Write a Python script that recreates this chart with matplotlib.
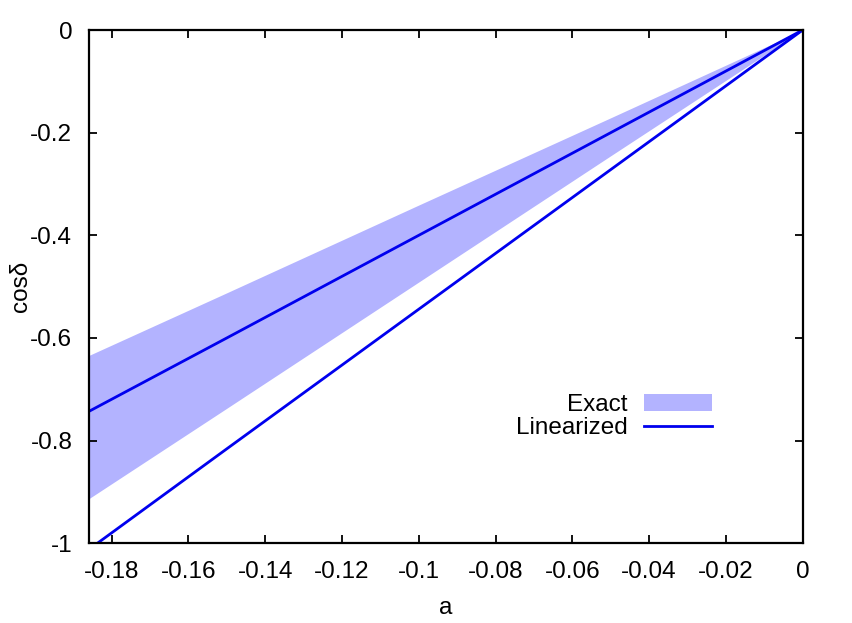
import numpy as np
import matplotlib
matplotlib.use("Agg")
import matplotlib.pyplot as plt

# values
a_vals = [-0.1859, -0.15, -0.10, -0.05, 0.0]
exact_upper = [-0.634, -0.512, -0.341, -0.171, 0.0]
exact_lower = [-0.913, -0.737, -0.491, -0.245, 0.0]
exact_mid = [-0.743, -0.600, -0.400, -0.200, 0.0]
linearized = [-1.012, -0.816, -0.544, -0.272, 0.0]

xticks = [-0.18, -0.16, -0.14, -0.12, -0.1, -0.08, -0.06, -0.04, -0.02, 0]
yticks = [-1, -0.8, -0.6, -0.4, -0.2, 0]

plt.rcParams["font.family"] = ["Liberation Sans", "DejaVu Sans"]
plt.rcParams["font.size"] = 17.5

fig = plt.figure(figsize=(8.53, 6.23), dpi=100)
ax = fig.add_axes([0.1043, 0.128, 0.8367, 0.8238])

ax.fill_between(a_vals, exact_lower, exact_upper, color="#b3b3ff", lw=0, label="Exact")
ax.plot(a_vals, exact_mid, color="#0000ee", lw=2)
ax.plot(a_vals, linearized, color="#0000ee", lw=2, label="Linearized")

ax.set_xlim(-0.1859, 0)
ax.set_ylim(-1, 0)
ax.set_xticks(xticks)
ax.set_yticks(yticks)
ax.set_xticklabels(["%g" % t for t in xticks])
ax.set_yticklabels(["%g" % t for t in yticks])
ax.tick_params(direction="in", top=True, right=True, length=6, width=1.3)
ax.tick_params(axis="x", pad=13)
ax.tick_params(axis="y", pad=12)
for s in ax.spines.values():
    s.set_linewidth(1.6)

ax.set_xlabel("a")
ax.set_ylabel("cosδ")
ax.xaxis.set_label_coords(0.5, -0.105)
ax.yaxis.set_label_coords(-0.08, 0.5)

ax.legend(loc="center right", bbox_to_anchor=(0.873, 0.247), frameon=False,
          markerfirst=False, borderpad=0, borderaxespad=0, labelspacing=0.08,
          handlelength=2.8, handletextpad=0.68)

fig.savefig("out.png", dpi=100)
